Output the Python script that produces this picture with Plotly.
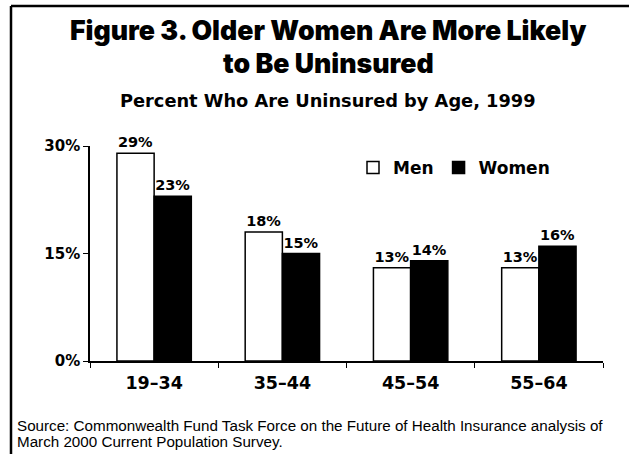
import plotly.graph_objects as go

categories = ["19–34", "35–44", "45–54", "55–64"]
men = [29, 18, 13, 13]
women = [23, 15, 14, 16]
y_ticks = [0, 15, 30]
y_tick_labels = ["0%", "15%", "30%"]

W, H = 629, 454
L, R, T, B = 90, 26, 146, 93
pw, ph = W - L - R, H - T - B

def px2x(px):
    return (px - L) / pw

def py2y(py):
    return (H - B - py) / ph

HEAVY = "DejaVu Sans"
BLACK = "Inter"

fig = go.Figure()
for name, vals, col in [("Men", men, "white"), ("Women", women, "black")]:
    fig.add_trace(go.Bar(
        name=name, x=categories, y=vals,
        marker=dict(color=col, line=dict(color="black", width=1.5)),
        text=[f"{v}%" for v in vals], textposition="outside", constraintext="none",
        textfont=dict(family=HEAVY, size=14.5, color="black", weight="bold"),
        cliponaxis=False, hoverinfo="x+y+name",
    ))

fig.update_layout(
    width=W, height=H,
    margin=dict(l=L, r=R, t=T, b=B, pad=0),
    paper_bgcolor="white", plot_bgcolor="white",
    barmode="group", bargap=0.42, bargroupgap=0,
    showlegend=True,
    legend=dict(
        orientation="h", x=px2x(353), y=py2y(168), xanchor="left", yanchor="middle",
        font=dict(family=HEAVY, size=17, color="black", weight="bold"),
        bgcolor="rgba(0,0,0,0)", itemwidth=30, traceorder="normal",
    ),
    xaxis=dict(
        showline=True, linecolor="black", linewidth=1.5,
        ticks="outside", tickson="boundaries", ticklen=5, tickcolor="black", tickwidth=1,
        tickfont=dict(family=HEAVY, size=17.5, color="black", weight="bold"),
        ticklabelstandoff=5, showgrid=False,
    ),
    yaxis=dict(
        range=[0, 30], tickvals=y_ticks, ticktext=y_tick_labels,
        showline=True, linecolor="black", linewidth=1.5,
        ticks="outside", ticklen=5, tickcolor="black", tickwidth=1,
        tickfont=dict(family=HEAVY, size=15, color="black", weight="bold"),
        showgrid=False, zeroline=False,
    ),
    annotations=[
        dict(text="Figure 3. Older Women Are More Likely", x=px2x(328), y=py2y(30),
             xref="paper", yref="paper", xanchor="center", yanchor="middle", showarrow=False,
             font=dict(family=BLACK, size=26.7, color="black", weight=900)),
        dict(text="to Be Uninsured", x=px2x(328), y=py2y(63),
             xref="paper", yref="paper", xanchor="center", yanchor="middle", showarrow=False,
             font=dict(family=BLACK, size=26.7, color="black", weight=900)),
        dict(text="Percent Who Are Uninsured by Age, 1999", x=px2x(328), y=py2y(100),
             xref="paper", yref="paper", xanchor="center", yanchor="middle", showarrow=False,
             font=dict(family=HEAVY, size=17.8, color="black", weight="bold")),
        dict(text="Source: Commonwealth Fund Task Force on the Future of Health Insurance analysis of",
             x=px2x(15), y=py2y(425), xref="paper", yref="paper", xanchor="left", yanchor="middle",
             showarrow=False, font=dict(family="Liberation Sans", size=15.2, color="black")),
        dict(text="March 2000 Current Population Survey.",
             x=px2x(15), y=py2y(441), xref="paper", yref="paper", xanchor="left", yanchor="middle",
             showarrow=False, font=dict(family="Liberation Sans", size=15.2, color="black")),
    ],
    shapes=[
        dict(type="line", xref="paper", yref="paper", x0=px2x(11), x1=px2x(640), y0=py2y(6), y1=py2y(6),
             line=dict(color="black", width=2.5)),
        dict(type="line", xref="paper", yref="paper", x0=px2x(11), x1=px2x(11), y0=py2y(6), y1=py2y(460),
             line=dict(color="black", width=2.5)),
    ],
)

fig.write_html("out.html")
